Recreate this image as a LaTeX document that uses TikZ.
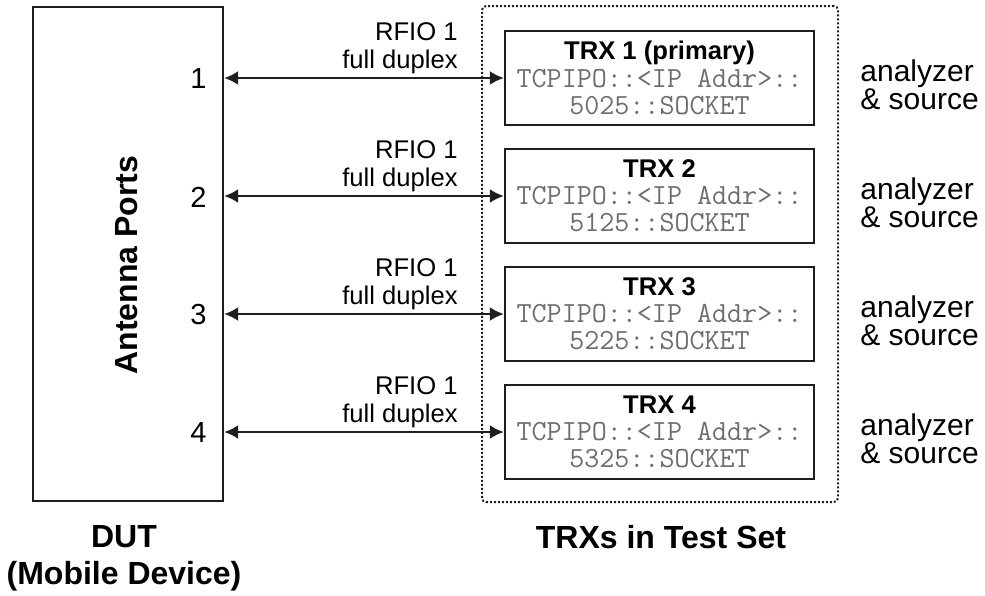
\documentclass[tikz,border=0pt]{standalone}
\usepackage{fontspec}
\setmainfont{Liberation Sans}
\usepackage{xcolor}
\usetikzlibrary{arrows.meta}
\definecolor{linegray}{RGB}{30, 30, 30}
\definecolor{addrgray}{RGB}{110, 110, 110}
\newcommand{\addrtext}[1]{{\fontsize{14.6}{13.6}\selectfont\ttfamily\color{addrgray}#1}}

\tikzset{
  trxbox/.style={draw=linegray, line width=1.2pt, minimum width=154.5pt,
    minimum height=47pt, inner sep=0pt, align=center,
    font=\fontsize{12.8}{13.6}\selectfont},
  duplex/.style={{Latex[length=7pt,width=7pt]}-{Latex[length=7pt,width=7pt]},
    line width=1pt, linegray},
  portnum/.style={anchor=east, inner sep=0pt, font=\fontsize{14.5}{15}\selectfont},
  linklabel/.style={anchor=south east, inner sep=0pt, align=right,
    font=\fontsize{12.8}{14}\selectfont},
  rolelabel/.style={anchor=west, inner sep=0pt, align=left,
    font=\fontsize{15}{14}\selectfont},
  caption/.style={inner sep=0pt, align=center,
    font=\fontsize{16}{18.5}\selectfont\bfseries}
}

\begin{document}
\begin{tikzpicture}[x=0.5pt, y=-0.5pt]
  \useasboundingbox (0,0) rectangle (985,595);

  %% device under test
  \node[draw=linegray, line width=1.2pt, minimum width=95pt,
        minimum height=247pt] (dut) at (128,254) {};
  \node[rotate=90, font=\fontsize{16}{18}\selectfont\bfseries] (antlabel)
    at (127,265) {Antenna Ports};

  %% test set frame
  \node[draw=linegray, dash pattern=on 1pt off 1pt, line width=1pt,
        rounded corners=2pt, minimum width=178pt, minimum height=248pt]
        (testset) at (660,254) {};

  %% one row per transceiver
  \foreach \i/\trxname/\sock in {1/{TRX 1 (primary)}/5025, 2/{TRX 2}/5125,
                                  3/{TRX 3}/5225, 4/{TRX 4}/5325} {
    \pgfmathsetmacro{\yy}{78+118*(\i-1)}
    \node[trxbox] (trx\i) at (659.5,\yy)
      {\textbf{\trxname}\\
       \addrtext{TCPIPO::<IP Addr>::}\\
       \addrtext{\sock::SOCKET}};
    \coordinate (port\i) at (dut.east |- trx\i.west);
    \node[portnum] (num\i) at (207,\yy+1) {\i};
    \draw[duplex] (port\i) -- (trx\i.west);
    \node[linklabel] (link\i) at (458,\yy-3.5) {RFIO 1\\full duplex};
    \node[rolelabel] (role\i) at (860,\yy+7) {analyzer\\\& source};
  }

  %% captions
  \node[caption, anchor=north] (dutcap) at (124,525) {DUT\\(Mobile Device)};
  \node[caption, anchor=base] (setcap) at (661,548) {TRXs in Test Set};
\end{tikzpicture}
\end{document}
